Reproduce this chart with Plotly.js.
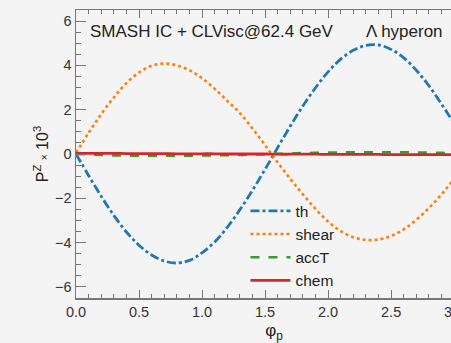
<!DOCTYPE html>
<html>
<head>
<meta charset="utf-8">
<script src="https://cdn.plot.ly/plotly-3.0.1.min.js"></script>
<style>
html,body{margin:0;padding:0;overflow:hidden;background:#f4f4f4;}
#chart{width:500px;height:343px;}
</style>
</head>
<body>
<div id="chart"></div>
<script>
const phi   = [0, 0.1, 0.2, 0.3, 0.4, 0.5, 0.6, 0.7, 0.8, 0.9, 1.0, 1.1, 1.2, 1.3, 1.4, 1.5, 1.6, 1.7, 1.8, 1.9, 2.0, 2.1, 2.2, 2.3, 2.4, 2.5, 2.6, 2.7, 2.8, 2.9, 3.0, 3.1, 3.1416];
const th    = [0, -0.97, -1.91, -2.77, -3.52, -4.12, -4.56, -4.83, -4.92, -4.80, -4.46, -3.97, -3.31, -2.52, -1.64, -0.69, 0.29, 1.26, 2.17, 2.99, 3.71, 4.28, 4.68, 4.90, 4.92, 4.72, 4.34, 3.78, 3.08, 2.25, 1.37, 0.41, 0];
const shear = [0.05, 0.95, 1.80, 2.55, 3.20, 3.68, 3.98, 4.08, 4.00, 3.78, 3.42, 2.95, 2.40, 1.85, 1.15, 0.40, -0.38, -1.12, -1.82, -2.48, -3.05, -3.48, -3.76, -3.88, -3.86, -3.70, -3.40, -2.97, -2.44, -1.82, -1.12, -0.36, -0.05];
const accT  = [0, -0.02, -0.04, -0.06, -0.07, -0.08, -0.08, -0.08, -0.08, -0.08, -0.07, -0.06, -0.05, -0.04, -0.02, -0.01, 0.01, 0.02, 0.04, 0.05, 0.06, 0.07, 0.08, 0.08, 0.08, 0.08, 0.08, 0.07, 0.06, 0.05, 0.03, 0.01, 0];
const chem  = [0.03, 0.03, 0.03, 0.03, 0.02, 0.02, 0.02, 0.02, 0.01, 0.01, 0.01, 0.01, 0.0, 0.0, 0.0, 0.0, -0.01, -0.01, -0.01, -0.01, -0.02, -0.02, -0.02, -0.02, -0.02, -0.03, -0.03, -0.03, -0.03, -0.03, -0.03, -0.03, -0.03];

const seriesNames = ['th', 'shear', 'accT', 'chem'];
const seriesData = [th, shear, accT, chem];
const styles = [
  {color:'#1f77b4', dash:'dashdot', width:2.8},
  {color:'#ff7f0e', dash:'dot', width:2.6},
  {color:'#2ca02c', dash:'dash', width:2.6},
  {color:'#d62728', dash:'solid', width:2.8}
];

const traces = seriesNames.map((n, i) => ({
  x: phi, y: seriesData[i], name: n, type: 'scatter', mode: 'lines',
  line: Object.assign({shape:'spline'}, styles[i])
}));

const font = {family:'Liberation Sans, Arial, sans-serif', color:'#222'};

const layout = {
  width: 500, height: 343,
  margin: {l:76, r:28, t:10, b:45},
  paper_bgcolor: '#f4f4f4', plot_bgcolor: '#f4f4f4',
  font: Object.assign({size:14}, font),
  showlegend: true,
  legend: {x:0.428, y:0.36, xanchor:'left', yanchor:'top', bgcolor:'rgba(0,0,0,0)',
           font:{size:15.5, family:font.family, color:'#222'}, tracegroupgap:0, itemwidth:40},
  xaxis: {
    range:[0, Math.PI], showgrid:false, zeroline:false,
    showline:true, linecolor:'#777', linewidth:1.5, mirror:'ticks',
    ticks:'inside', ticklen:8, tickcolor:'#777', dtick:0.5, tick0:0, tickformat:'.1f',
    minor:{ticks:'inside', ticklen:4, dtick:0.1, tickcolor:'#777'},
    tickfont:{size:14.5, color:'#333'},
    title:{text:'φ<sub>p</sub>', font:{size:17, color:'#222'}, standoff:12}
  },
  yaxis: {
    range:[-6.5, 6.5], showgrid:false, zeroline:false,
    showline:true, linecolor:'#777', linewidth:1.5, mirror:'ticks',
    ticks:'inside', ticklen:10, tickcolor:'#777', dtick:2, tick0:0,
    minor:{ticks:'inside', ticklen:5, dtick:0.5, tickcolor:'#777'},
    tickfont:{size:14.5, color:'#333'},
    title:{text:'P<sup>Z</sup> <span style="font-size:10px">×</span> 10<sup>3</sup>', font:{size:16, color:'#222'}, standoff:2}
  },
  annotations: [
    {xref:'paper', yref:'paper', x:0.030, y:0.924, xanchor:'left', yanchor:'middle', showarrow:false,
     text:'SMASH IC + CLVisc@62.4 GeV', font:{size:17, family:font.family, color:'#222'}},
    {xref:'paper', yref:'paper', x:0.727, y:0.924, xanchor:'left', yanchor:'middle', showarrow:false,
     text:'Λ hyperon', font:{size:17, family:font.family, color:'#222'}}
  ]
};

Plotly.newPlot('chart', traces, layout, {displayModeBar:false, staticPlot:true});
</script>
</body>
</html>
